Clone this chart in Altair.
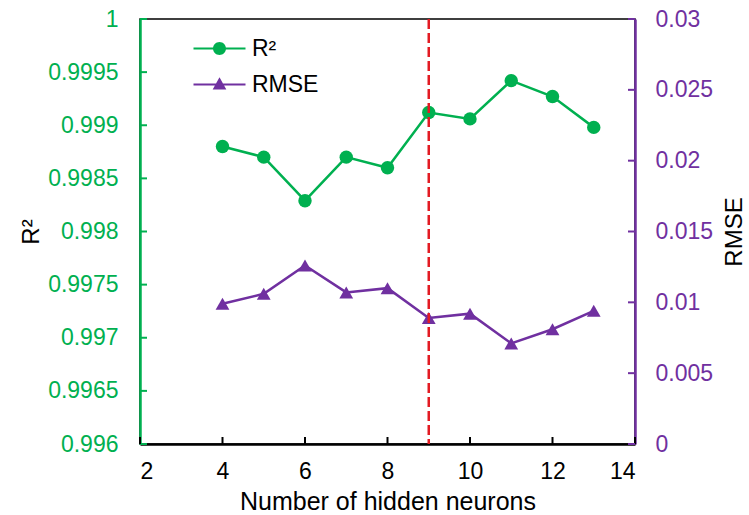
import altair as alt
import pandas as pd

# ---- data ----
neurons = [4, 5, 6, 7, 8, 9, 10, 11, 12, 13]
r2_values = [0.9988, 0.9987, 0.99829, 0.9987, 0.9986, 0.99912, 0.99906, 0.99942, 0.99927, 0.99898]
rmse_values = [0.0099, 0.0106, 0.0126, 0.0107, 0.0110, 0.0089, 0.0092, 0.0071, 0.0081, 0.0094]
optimal_neurons = [9]
series_names = ["R²", "RMSE"]
x_ticks = [2, 4, 6, 8, 10, 12, 14]
r2_ticks = [0.996, 0.9965, 0.997, 0.9975, 0.998, 0.9985, 0.999, 0.9995, 1.0]
rmse_ticks = [0, 0.005, 0.01, 0.015, 0.02, 0.025, 0.03]

GREEN = "#00B050"
PURPLE = "#7030A0"
RED = "#E31B23"
FONT = "Liberation Sans"
W, H = 495, 425

df = pd.DataFrame({"n": neurons, "r2": r2_values, "rmse": rmse_values})
df_opt = pd.DataFrame({"n": optimal_neurons})
df_xt = pd.DataFrame({"n": x_ticks})
df_lt = pd.DataFrame({"r2": r2_ticks})
df_rt = pd.DataFrame({"rmse": rmse_ticks})
df_leg = pd.DataFrame({"series": series_names})

xscale = alt.Scale(domain=[2, 14], nice=False, zero=False)
y1scale = alt.Scale(domain=[0.996, 1.0], nice=False, zero=False)
y2scale = alt.Scale(domain=[0, 0.03], nice=False, zero=False)

x_axis = alt.Axis(values=x_ticks, title="Number of hidden neurons", ticks=False,
                  domainColor="black", domainWidth=2.5, labelColor="black",
                  labelFontSize=23, titleFontSize=25, labelPadding=16, titlePadding=6,
                  labelFont=FONT, titleFont=FONT, titleFontWeight="normal", grid=False)
y1_axis = alt.Axis(orient="left", values=r2_ticks, format="~g", title="R²", ticks=False,
                   domainColor=GREEN, domainWidth=2.5, labelColor=GREEN,
                   labelFontSize=23, titleFontSize=24, labelPadding=22, titlePadding=4,
                   labelFont=FONT, titleFont=FONT, titleFontWeight="normal",
                   titleColor="black", grid=False)
y2_axis = alt.Axis(orient="right", values=rmse_ticks, format="~g", title="RMSE", ticks=False,
                   domainColor=PURPLE, domainWidth=2.5, labelColor=PURPLE,
                   labelFontSize=23, titleFontSize=24, labelPadding=20, titlePadding=34,
                   titleAngle=270, labelFont=FONT, titleFont=FONT, titleFontWeight="normal",
                   titleColor="black", grid=False)

X = alt.X("n:Q", scale=xscale, axis=x_axis)
Y1 = alt.Y("r2:Q", scale=y1scale, axis=y1_axis)
Y2 = alt.Y("rmse:Q", scale=y2scale, axis=y2_axis)

circle_path = "M-4,-0.17H-0.5V0.17H-4Z M0.5,-0.17H4V0.17H0.5Z M-1,0A1,1 0 1,1 1,0A1,1 0 1,1 -1,0Z"
tri_path = "M-4,-0.17H-0.5V0.17H-4Z M0.5,-0.17H4V0.17H0.5Z M0,-1.1L1.05,0.75L-1.05,0.75Z"

r2_line = alt.Chart(df).mark_line(color=GREEN, strokeWidth=2.5).encode(x=X, y=Y1)
r2_pts = alt.Chart(df).mark_point(shape="circle", filled=True, color=GREEN, size=180, opacity=1).encode(x=X, y=Y1)
left_ticks = alt.Chart(df_lt).mark_rule(color=GREEN, strokeWidth=2).encode(
    y=Y1, x=alt.value(0), x2=alt.value(7)
)
bottom_ticks = alt.Chart(df_xt).mark_rule(color="black", strokeWidth=2).encode(
    x=X, y=alt.value(H), y2=alt.value(H - 7)
)
opt_rule = alt.Chart(df_opt).mark_rule(color=RED, strokeWidth=2.5, strokeDash=[10, 4]).encode(x=X)
legend_carrier = alt.Chart(df_leg).transform_filter("false").mark_point(filled=True, size=169, opacity=1).encode(
    color=alt.Color("series:N", scale=alt.Scale(domain=series_names, range=[GREEN, PURPLE]),
                    legend=alt.Legend(orient="none", legendX=68, legendY=18, title=None,
                                      symbolOpacity=1, symbolSize=169, symbolStrokeWidth=0,
                                      labelFont=FONT, labelFontSize=23, labelColor="black",
                                      labelOffset=21, rowPadding=12, padding=0)),
    shape=alt.Shape("series:N", scale=alt.Scale(domain=series_names, range=[circle_path, tri_path])),
)

left = alt.layer(r2_line, r2_pts, left_ticks, bottom_ticks, legend_carrier)

rmse_line = alt.Chart(df).mark_line(color=PURPLE, strokeWidth=2.5).encode(x=X, y=Y2)
rmse_pts = alt.Chart(df).mark_point(shape="triangle-up", filled=True, color=PURPLE, size=190, opacity=1).encode(x=X, y=Y2)
right_ticks = alt.Chart(df_rt).mark_rule(color=PURPLE, strokeWidth=2).encode(
    y=Y2, x=alt.value(W - 7), x2=alt.value(W)
)
right = alt.layer(rmse_line, rmse_pts, right_ticks)

chart = alt.layer(left, right, opt_rule).resolve_scale(y="independent").properties(
    width=W, height=H,
    autosize=alt.AutoSizeParams(type="none"),
    padding={"left": 140, "top": 19, "right": 114, "bottom": 71},
    background="white",
).configure_view(stroke="black", strokeWidth=1.5)

chart.save("out.html", embed_options={"renderer": "svg", "actions": False})
